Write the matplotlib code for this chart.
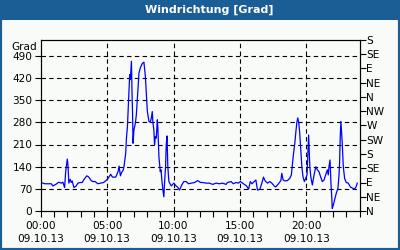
import matplotlib
matplotlib.use("Agg")
import matplotlib.pyplot as plt
from matplotlib.patches import Rectangle

title = "Windrichtung [Grad]"
y_label = "Grad"
date_label = "09.10.13"
x_tick_hours = [0, 5, 10, 15, 20]
x_tick_times = ["00:00", "05:00", "10:00", "15:00", "20:00"]
y_ticks = [0, 70, 140, 210, 280, 350, 420, 490]
dir_ticks = [0, 45, 90, 135, 180, 225, 270, 315, 360, 405, 450, 495, 540]
dir_labels = ["N", "NE", "E", "SE", "S", "SW", "W", "NW", "N", "NE", "E", "SE", "S"]

hours = [0.00, 0.32, 0.80, 0.92, 1.17, 1.35, 1.55, 1.67, 1.80, 1.88, 2.00, 2.05, 2.12, 2.22,
         2.30, 2.37, 2.50, 2.67, 2.80, 2.97, 3.12, 3.30, 3.47, 3.60, 3.80, 3.92, 4.10, 4.30,
         4.50, 4.73, 4.92, 5.07, 5.27, 5.40, 5.65, 5.82, 5.90, 6.00, 6.08, 6.20, 6.27, 6.40,
         6.45, 6.53, 6.62, 6.70, 6.75, 6.83, 6.87, 6.92, 6.95, 7.02, 7.13, 7.20, 7.32, 7.40,
         7.50, 7.65, 7.77, 7.88, 7.95, 8.03, 8.15, 8.25, 8.33, 8.40, 8.45, 8.52, 8.57, 8.63,
         8.70, 8.78, 8.82, 8.90, 9.00, 9.06, 9.12, 9.20, 9.27, 9.34, 9.40, 9.45, 9.51, 9.57,
         9.65, 9.83, 10.02, 10.20, 10.32, 10.45, 10.62, 10.77, 10.95, 11.13, 11.33, 11.58,
         11.82, 12.03, 12.20, 12.45, 12.70, 12.95, 13.20, 13.45, 13.70, 13.95, 14.07, 14.33,
         14.50, 14.70, 14.88, 15.03, 15.20, 15.33, 15.50, 15.65, 15.78, 15.90, 16.08, 16.20,
         16.32, 16.50, 16.65, 16.77, 16.90, 17.07, 17.25, 17.40, 17.58, 17.70, 17.90, 18.08,
         18.15, 18.25, 18.40, 18.57, 18.75, 18.87, 18.95, 19.02, 19.13, 19.20, 19.28, 19.35,
         19.43, 19.50, 19.58, 19.66, 19.75, 19.85, 19.95, 20.05, 20.13, 20.17, 20.26, 20.33,
         20.45, 20.58, 20.71, 20.83, 20.95, 21.08, 21.20, 21.33, 21.45, 21.58, 21.65, 21.70,
         21.78, 21.85, 21.91, 21.95, 22.03, 22.15, 22.25, 22.38, 22.45, 22.50, 22.55, 22.60,
         22.65, 22.70, 22.78, 22.88, 23.00, 23.15, 23.33, 23.50, 23.63, 23.75, 23.83]
degrees = [90, 86, 86, 79, 85, 91, 88, 91, 74, 124, 164, 146, 88, 100,
           90, 95, 74, 79, 88, 90, 90, 102, 111, 108, 96, 93, 93, 86,
           88, 90, 96, 103, 116, 107, 107, 124, 142, 111, 121, 128, 140, 183,
           227, 267, 357, 431, 415, 473, 383, 299, 214, 256, 278, 304, 383, 436,
           452, 466, 470, 425, 373, 314, 283, 280, 294, 314, 278, 256, 209, 235,
           230, 288, 262, 172, 124, 130, 98, 66, 45, 100, 140, 209, 237, 140,
           93, 79, 88, 79, 75, 66, 82, 93, 93, 86, 88, 90,
           96, 90, 90, 88, 88, 84, 88, 86, 88, 84, 90, 93,
           86, 90, 88, 93, 88, 84, 79, 69, 93, 86, 93, 98,
           66, 69, 88, 107, 95, 88, 93, 88, 79, 76, 86, 96,
           119, 98, 95, 96, 103, 114, 146, 177, 214, 246, 278, 294,
           278, 246, 193, 140, 107, 93, 103, 114, 204, 240, 140, 109,
           82, 114, 140, 130, 124, 107, 93, 98, 114, 130, 114, 140,
           161, 88, 45, 8, 19, 40, 56, 72, 109, 151, 235, 283,
           246, 214, 140, 103, 90, 88, 75, 72, 69, 77, 88]

W, H = 400, 250
blue_frame = "#1b5e95"
bg = "#f9fbf9"
fs = 7.6

fig = plt.figure(figsize=(4, 2.5), dpi=100)
fig.patch.set_facecolor(bg)

# outer frame and title bar
fig.patches.append(Rectangle((0, 0), 1, 1, transform=fig.transFigure, fill=False,
                             edgecolor=blue_frame, linewidth=3.0, zorder=0))
fig.patches.append(Rectangle((0, 1 - 20 / H), 1, 20 / H, transform=fig.transFigure,
                             facecolor=blue_frame, edgecolor="none", zorder=0))
fig.text(209 / W, 1 - 10 / H, title, color="white", fontsize=8.0, fontweight="bold",
         ha="center", va="center")

ax = fig.add_axes([40.7 / W, 1 - 211 / H, (359.5 - 40.7) / W, (211 - 40) / H])
ax.set_facecolor(bg)
ax.plot(hours, degrees, color="#0000ff", linewidth=0.9, zorder=3)
ax.set_xlim(0, 24)
ax.set_ylim(0, 540)

ax.set_yticks(y_ticks)
ax.set_yticklabels([str(v) for v in y_ticks], fontsize=fs)
ax.set_xticks(x_tick_hours)
ax.set_xticklabels([f"{t}\n{date_label}" for t in x_tick_times], fontsize=fs, linespacing=1.45)
ax.set_xticks(range(0, 25), minor=True)
ax.tick_params(axis="both", which="both", direction="out", length=4, width=0.8, color="black", pad=2)
ax.tick_params(axis="x", which="major", pad=3)

for v in y_ticks[1:]:
    ax.axhline(v, color="black", linewidth=0.8, linestyle=(0, (4, 3)), zorder=1)
for h in x_tick_hours[1:]:
    ax.axvline(h, color="black", linewidth=0.8, linestyle=(0, (4, 3)), zorder=1)

for s in ax.spines.values():
    s.set_linewidth(0.8)
    s.set_color("black")

ax2 = ax.twinx()
ax2.set_ylim(0, 540)
ax2.set_yticks(dir_ticks)
ax2.set_yticklabels(dir_labels, fontsize=fs)
ax2.tick_params(axis="y", direction="out", length=4, width=0.8, pad=1)
for s in ax2.spines.values():
    s.set_linewidth(0.8)

fig.text(37 / W, 1 - 47 / H, y_label, fontsize=fs, ha="right", va="center")

fig.savefig("out.png", dpi=100, facecolor=fig.get_facecolor())
